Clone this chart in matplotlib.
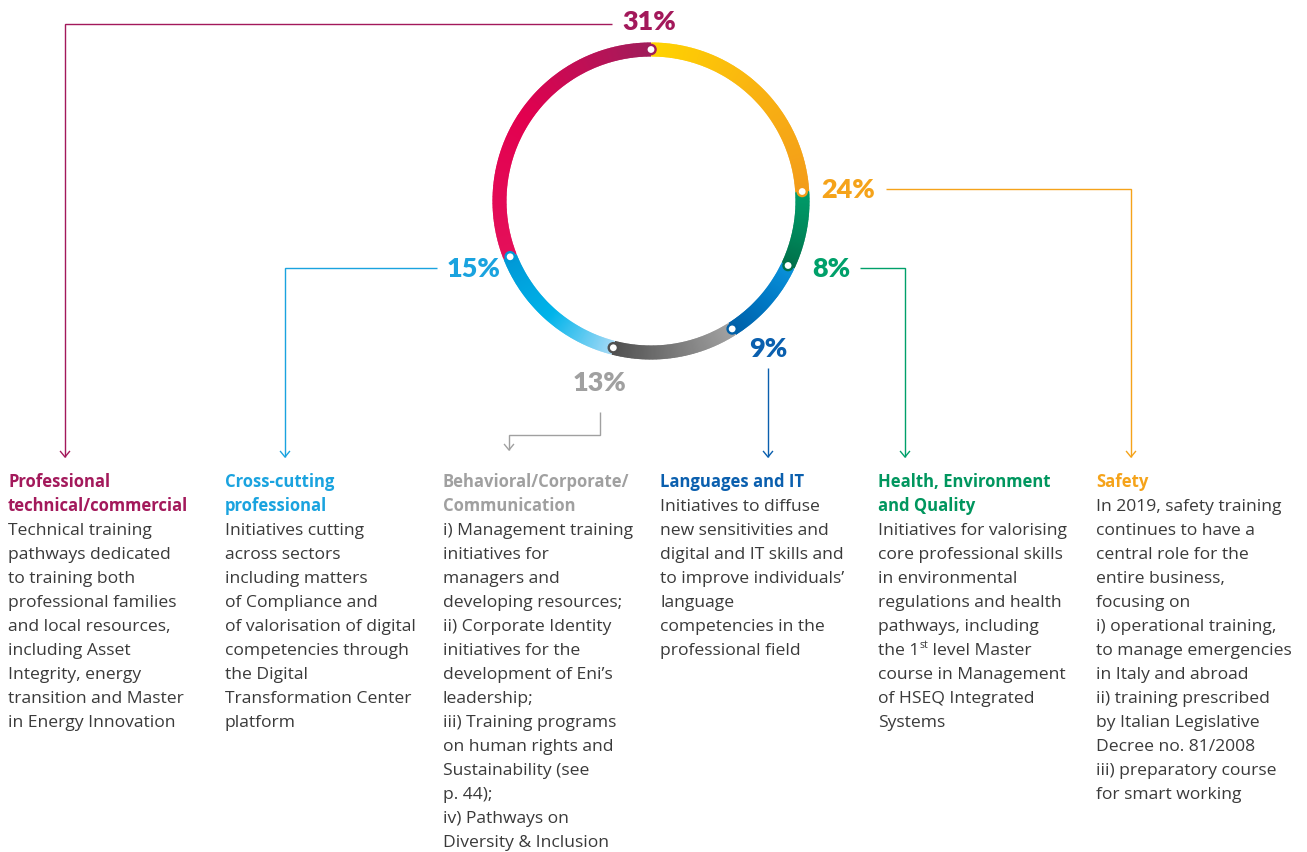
import matplotlib
matplotlib.use("Agg")
import matplotlib.pyplot as plt
from matplotlib.patches import Wedge, Circle
from matplotlib.colors import LinearSegmentedColormap
import numpy as np

# ---------------- data ----------------
categories = ["Safety", "Health, Environment and Quality", "Languages and IT",
              "Behavioral/Corporate/Communication", "Cross-cutting professional",
              "Professional technical/commercial"]
shares = [24, 8, 9, 13, 15, 31]

headers = [
    ["Safety"],
    ["Health, Environment", "and Quality"],
    ["Languages and IT"],
    ["Behavioral/Corporate/", "Communication"],
    ["Cross-cutting", "professional"],
    ["Professional", "technical/commercial"],
]
bodies = [
    ["In 2019, safety training", "continues to have a", "central role for the",
     "entire business,", "focusing on", "i) operational training,",
     "to manage emergencies", "in Italy and abroad", "ii) training prescribed",
     "by Italian Legislative", "Decree no. 81/2008", "iii) preparatory course",
     "for smart working"],
    ["Initiatives for valorising", "core professional skills", "in environmental",
     "regulations and health", "pathways, including", "the 1^st^ level Master",
     "course in Management", "of HSEQ Integrated", "Systems"],
    ["Initiatives to diffuse", "new sensitivities and", "digital and IT skills and",
     "to improve individuals\u2019", "language", "competencies in the",
     "professional field"],
    ["i) Management training", "initiatives for", "managers and",
     "developing resources;", "ii) Corporate Identity", "initiatives for the",
     "development of Eni\u2019s", "leadership;", "iii) Training programs",
     "on human rights and", "Sustainability (see", "p. 44);", "iv) Pathways on",
     "Diversity & Inclusion"],
    ["Initiatives cutting", "across sectors", "including matters",
     "of Compliance and", "of valorisation of digital", "competencies through",
     "the Digital", "Transformation Center", "platform"],
    ["Technical training", "pathways dedicated", "to training both",
     "professional families", "and local resources,", "including Asset",
     "Integrity, energy", "transition and Master", "in Energy Innovation"],
]

# ---------------- styles / layout ----------------
label_colors = ["#f5a31a", "#00a06a", "#0a5fae", "#a0a0a0", "#1aa3df", "#a3195b"]
header_colors = ["#f5a31a", "#00965e", "#0a5fae", "#a0a0a0", "#1aa3df", "#a3195b"]
ring_stops = [
    ["#ffd400", "#f9b312", "#f39c1a"],
    ["#009c6a", "#008a5c", "#00704a"],
    ["#0a92da", "#0078c4", "#0060a8"],
    ["#a3a3a3", "#7a7a7a", "#505050"],
    ["#a6daf6", "#00b4ea", "#0098d6"],
    ["#e4105a", "#e2004f", "#a01d5b"],
]
# percent label anchor (center, baseline)
label_pos = [(848, 198), (831, 277), (768, 357), (600, 391), (474, 277), (649, 30)]
# leader line paths (start at label, end at text column)
leader_paths = [
    [(886, 189), (1131, 189), (1131, 457)],
    [(860, 268), (905, 268), (905, 457)],
    [(768, 368), (768, 457)],
    [(600, 412), (600, 435), (509, 435), (509, 450)],
    [(437, 268), (285, 268), (285, 457)],
    [(612, 24), (65, 24), (65, 457)],
]
col_x = [1096, 878, 660, 443, 225, 8]

W, H = 1307, 852
PX = 72 / 100.0  # px -> pt
cx, cy, R, RW = 651, 201, 158.5, 14

body_font = "Open Sans"
pct_font = "Lato"
body_size = 17.5 * PX
head_size = 16.6 * PX
line_h = 24
first_base = 487
body_color = "#3a3a3a"

fig = plt.figure(figsize=(W / 100, H / 100), dpi=100)
ax = fig.add_axes([0, 0, 1, 1])
ax.set_xlim(0, W)
ax.set_ylim(H, 0)
ax.axis("off")

# ---------------- ring ----------------
start = 0.0
ends = []
for i, v in enumerate(shares):
    a0 = -90 + 360 * start / sum(shares)
    a1 = -90 + 360 * (start + v) / sum(shares)
    cmap = LinearSegmentedColormap.from_list("seg%d" % i, ring_stops[i])
    n = max(int((a1 - a0) * 2), 4)
    edges = np.linspace(a0, a1, n + 1)
    for k in range(n):
        t2 = edges[k + 1] + (0.4 if k < n - 1 else 0.0)
        ax.add_patch(Wedge((cx, cy), R, edges[k], t2, width=RW,
                           facecolor=cmap((k + 0.5) / n), edgecolor="none",
                           zorder=2))
    ends.append((a1, ring_stops[i][-1]))
    start += v

rm = R - RW / 2
for a, col in ends:
    th = np.deg2rad(a)
    ax.add_patch(Circle((cx + rm * np.cos(th), cy + rm * np.sin(th)), 4.6,
                        facecolor="white", edgecolor=col, lw=1.7, zorder=5))

# ---------------- percent labels ----------------
for i, v in enumerate(shares):
    x, y = label_pos[i]
    ax.text(x, y, f"{v}%", ha="center", va="baseline", color=label_colors[i],
            fontsize=27 * PX, fontweight="heavy", family=pct_font, zorder=6)

# ---------------- leader lines ----------------
for i, path in enumerate(leader_paths):
    xs = [p[0] for p in path]
    ys = [p[1] for p in path]
    ax.plot(xs, ys, color=label_colors[i], lw=1.0, solid_capstyle="butt",
            solid_joinstyle="miter", zorder=3)
    tx, ty = path[-1]
    ax.plot([tx - 4.5, tx, tx + 4.5], [ty - 5.5, ty, ty - 5.5],
            color=label_colors[i], lw=1.0, zorder=3)

# ---------------- text columns ----------------
for i in range(len(categories)):
    x = col_x[i]
    y = first_base
    for h in headers[i]:
        ax.text(x, y, h, ha="left", va="baseline", color=header_colors[i],
                fontsize=head_size, fontweight="bold", family=body_font)
        y += line_h
    for line in bodies[i]:
        if "^" in line:
            pre, sup, post = line.split("^")
            t1 = ax.text(x, y, pre, ha="left", va="baseline", color=body_color,
                         fontsize=body_size, family=body_font)
            t2 = ax.annotate(sup, xy=(1, y - 7), xycoords=(t1, "data"),
                             ha="left", va="baseline", color=body_color,
                             fontsize=body_size * 0.6, family=body_font)
            ax.annotate(post, xy=(1, y), xycoords=(t2, "data"),
                        ha="left", va="baseline", color=body_color,
                        fontsize=body_size, family=body_font)
        else:
            ax.text(x, y, line, ha="left", va="baseline", color=body_color,
                    fontsize=body_size, family=body_font)
        y += line_h

fig.savefig("out.png", dpi=100)
